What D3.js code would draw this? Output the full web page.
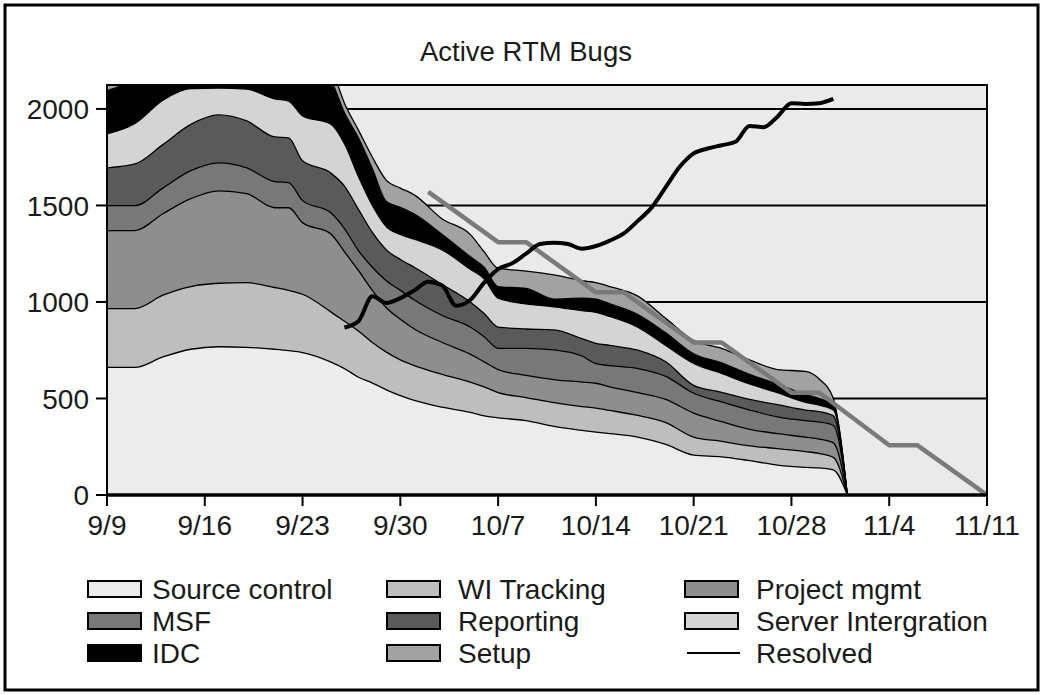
<!DOCTYPE html>
<html><head><meta charset="utf-8">
<script src="https://cdn.jsdelivr.net/npm/d3@7"></script>
<style>
body{margin:0;background:#fff;}
svg{display:block;font-family:"Liberation Sans",Arial,Helvetica,sans-serif;}
</style></head><body>
<svg id="c" width="1043" height="695"></svg>
<script>
// ---------- DATA ----------
const dates = ["9/9","9/11","9/13","9/15","9/17","9/19","9/21","9/22","9/23","9/25","9/26","9/27","9/28","9/29","9/30","10/1","10/3","10/5","10/6","10/7","10/9","10/11","10/13","10/14","10/15","10/17","10/19","10/21","10/23","10/25","10/27","10/29","10/30","10/31","11/1"];
const sourceControl = [661,661,715,755,768,765,755,748,738,690,655,610,580,545,515,490,455,428,410,400,385,355,335,326,318,300,262,207,198,178,155,143,140,130,0];
const wiTracking    = [305,305,320,325,329,335,320,312,302,260,245,240,210,195,185,180,170,157,150,130,120,123,123,124,120,112,113,93,80,77,85,82,75,65,0];
const projectMgmt  = [404,404,422,455,479,461,413,428,371,404,360,313,270,230,210,190,165,145,130,120,115,120,127,129,122,118,120,124,102,85,78,75,75,75,0];
const msf          = [129,129,133,145,145,134,135,130,114,109,120,103,120,140,150,150,140,140,130,110,140,154,135,101,110,125,120,103,102,100,87,85,88,90,0];
const reporting    = [196,216,225,240,248,243,232,232,206,206,220,214,180,160,160,170,160,130,120,110,100,103,90,106,105,95,75,41,50,55,63,55,54,50,0];
const serverInt    = [176,210,230,185,139,165,197,191,233,253,220,170,140,120,130,145,180,170,180,150,130,120,145,160,150,120,85,114,98,80,62,40,33,30,0];
const idc          = [224,225,205,195,192,197,248,259,286,228,160,200,190,130,140,130,80,65,60,60,80,40,65,69,65,65,65,50,55,50,45,40,35,25,0];
const setup        = [105,100,100,100,100,100,100,100,100,70,50,40,60,110,100,100,80,115,80,95,90,125,90,85,90,95,75,69,75,75,75,120,100,35,0];

const seriesNames  = ["Source control","WI Tracking","Project mgmt","MSF","Reporting","Server Intergration","IDC","Setup"];
const seriesValues = [sourceControl, wiTracking, projectMgmt, msf, reporting, serverInt, idc, setup];
const seriesColors = ["#ececec","#bebebe","#8e8e8e","#787878","#5a5a5a","#d4d4d4","#000000","#a2a2a2"];

const resolvedDates  = ["9/26","9/27","9/28","9/29","9/30","10/1","10/2","10/3","10/4","10/5","10/6","10/7","10/8","10/9","10/10","10/11","10/12","10/13","10/14","10/15","10/16","10/17","10/18","10/19","10/20","10/21","10/22","10/23","10/24","10/25","10/26","10/27","10/28","10/29","10/30","10/31"];
const resolvedValues = [868,900,1030,995,1020,1060,1105,1085,980,1010,1100,1170,1200,1250,1300,1307,1300,1276,1290,1318,1355,1420,1490,1595,1700,1770,1795,1812,1830,1912,1905,1960,2030,2026,2030,2052];

const trendDates  = ["10/2","10/7","10/9","10/14","10/16","10/21","10/23","10/28","10/30","11/4","11/6","11/11"];
const trendValues = [1570,1310,1310,1050,1050,790,790,530,530,258,258,0];

const xTickLabels = ["9/9","9/16","9/23","9/30","10/7","10/14","10/21","10/28","11/4","11/11"];
const yTickValues = [0,500,1000,1500,2000];
const gridValues  = [500,1000,1500,2000];
const titleText = "Active RTM Bugs";

// ---------- SETUP ----------
const parse = d3.utcParse("%m/%d/%Y");
const toDate = s => parse(s + "/2005");
const svg = d3.select("#c");
const L = 107, R = 987, T = 85, B = 495;
const FS = 28;
const x = d3.scaleUtc().domain([toDate("9/9"), toDate("11/11")]).range([L, R]);
const y = d3.scaleLinear().domain([0, 2124]).range([B, T]);

// outer frame
svg.append("rect").attr("x",5).attr("y",5).attr("width",1033).attr("height",685)
  .attr("fill","#fff").attr("stroke","#000").attr("stroke-width",3);

// title
svg.append("text").attr("x",526).attr("y",61).attr("text-anchor","middle")
  .attr("font-size",27.5).attr("fill","#1a1a1a").text(titleText);

// plot bg
svg.append("rect").attr("x",L).attr("y",T).attr("width",R-L).attr("height",B-T).attr("fill","#eaeaea");

svg.append("defs").append("clipPath").attr("id","clip")
  .append("rect").attr("x",L).attr("y",T).attr("width",R-L).attr("height",B-T);

// gridlines
svg.append("g").selectAll("line").data(gridValues).join("line")
  .attr("x1",L).attr("x2",R).attr("y1",d=>y(d)).attr("y2",d=>y(d))
  .attr("stroke","#000").attr("stroke-width",2);

// stacked data
const table = dates.map((d,i) => {
  const row = {date: toDate(d)};
  seriesNames.forEach((n,k) => row[n] = seriesValues[k][i]);
  return row;
});
const stacked = d3.stack().keys(seriesNames)(table);

const plot = svg.append("g").attr("clip-path","url(#clip)");
const area = d3.area().x(d=>x(d.data.date)).y0(d=>y(d[0])).y1(d=>y(d[1])).curve(d3.curveMonotoneX);
const topLine = d3.line().x(d=>x(d.data.date)).y(d=>y(d[1])).curve(d3.curveMonotoneX);

plot.selectAll("path.area").data(stacked).join("path").attr("class","area")
  .attr("d",area).attr("fill",(d,i)=>seriesColors[i]).attr("stroke","none");
plot.selectAll("path.edge").data(stacked).join("path").attr("class","edge")
  .attr("d",topLine).attr("fill","none").attr("stroke","#000").attr("stroke-width",1.3);

// trend line
const trendData = trendDates.map((d,i)=>({date: toDate(d), v: trendValues[i]}));
plot.append("path").datum(trendData)
  .attr("d", d3.line().x(d=>x(d.date)).y(d=>y(d.v)))
  .attr("fill","none").attr("stroke","#7a7a7a").attr("stroke-width",4.5).attr("stroke-linejoin","round");

// resolved line
const resolvedData = resolvedDates.map((d,i)=>({date: toDate(d), v: resolvedValues[i]}));
plot.append("path").datum(resolvedData)
  .attr("d", d3.line().x(d=>x(d.date)).y(d=>y(d.v)).curve(d3.curveMonotoneX))
  .attr("fill","none").attr("stroke","#000").attr("stroke-width",4).attr("stroke-linejoin","round");

// plot border
svg.append("rect").attr("x",L).attr("y",T).attr("width",R-L).attr("height",B-T)
  .attr("fill","none").attr("stroke","#000").attr("stroke-width",2);
svg.append("line").attr("x1",L).attr("x2",R).attr("y1",B).attr("y2",B)
  .attr("stroke","#000").attr("stroke-width",3.5);

// y axis
const yg = svg.append("g");
yg.selectAll("line").data(yTickValues).join("line")
  .attr("x1",96).attr("x2",L).attr("y1",d=>y(d)).attr("y2",d=>y(d))
  .attr("stroke","#000").attr("stroke-width",2);
yg.selectAll("text").data(yTickValues).join("text")
  .attr("x",89).attr("y",d=>y(d)).attr("dy","0.36em").attr("text-anchor","end")
  .attr("font-size",FS).attr("fill","#1a1a1a").text(d=>d);

// x axis
const xg = svg.append("g");
xg.selectAll("line").data(xTickLabels).join("line")
  .attr("x1",d=>x(toDate(d))).attr("x2",d=>x(toDate(d))).attr("y1",B).attr("y2",B+11)
  .attr("stroke","#000").attr("stroke-width",2);
xg.selectAll("text").data(xTickLabels).join("text")
  .attr("x",d=>x(toDate(d))).attr("y",535).attr("text-anchor","middle")
  .attr("font-size",FS).attr("fill","#1a1a1a").text(d=>d);

// legend
const legendItems = seriesNames.map((n,i)=>({name:n, color:seriesColors[i], type:"box"}))
  .concat([{name:"Resolved", type:"line"}]);
const colX = [88, 387, 685], rowY = [589, 621, 653];
const lg = svg.append("g");
legendItems.forEach((it,i)=>{
  const cx = colX[i%3], cy = rowY[Math.floor(i/3)];
  if (it.type === "box") {
    lg.append("rect").attr("x",cx).attr("y",cy-8).attr("width",53).attr("height",16)
      .attr("fill",it.color).attr("stroke","#000").attr("stroke-width",2);
  } else {
    lg.append("line").attr("x1",cx+2).attr("x2",cx+55).attr("y1",cy).attr("y2",cy)
      .attr("stroke","#000").attr("stroke-width",2);
  }
  lg.append("text").attr("x",cx + (i%3===0 ? 64 : 71)).attr("y",cy).attr("dy","0.36em")
    .attr("font-size",FS).attr("fill","#1a1a1a").text(it.name);
});
</script>
</body></html>
